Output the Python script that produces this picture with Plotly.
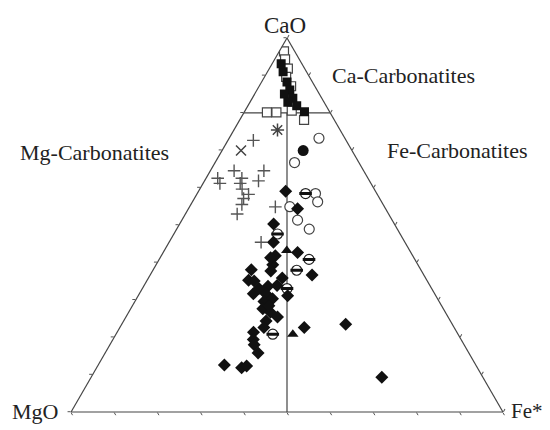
import plotly.graph_objects as go

# Ternary data (CaO, MgO, Fe*) in %
diam_ca = [59.0, 54.4, 50.3, 45.4, 42.6, 41.8, 39.4, 38.0, 37.7, 36.6, 35.2, 35.0, 35.8, 33.6, 33.8,
           31.6, 31.6, 31.1, 29.6, 27.6, 26.7, 25.4, 24.3, 22.6, 22.6, 23.5, 21.3, 19.4, 18.0, 15.8,
           12.6, 11.8, 12.3, 9.3, 33.0, 30.3, 28.4, 41.3]
diam_mg = [20.8, 20.4, 28.0, 30.5, 26.2, 31.8, 33.6, 39.2, 34.9, 25.9, 41.3, 40.1, 33.2, 37.6, 35.4,
           42.0, 39.1, 34.3, 40.6, 41.8, 40.5, 39.5, 42.7, 44.0, 34.7, 24.7, 47.1, 48.1, 48.6, 48.8,
           58.2, 54.6, 53.2, 23.4, 40.0, 38.2, 40.0, 33.2]
diam_fe = [20.2, 25.3, 21.8, 24.2, 31.1, 26.4, 27.0, 22.7, 27.4, 37.5, 23.5, 24.9, 31.0, 28.8, 30.8,
           26.4, 29.3, 34.6, 29.9, 30.6, 32.8, 35.1, 33.0, 33.3, 42.7, 51.9, 31.6, 32.5, 33.4, 35.4,
           29.2, 33.6, 34.5, 67.3, 27.0, 31.5, 31.6, 25.6]

ocirc_ca = [73.2, 66.7, 58.4, 56.2, 54.9, 51.3, 48.9]
ocirc_mg = [6.0, 14.9, 14.2, 14.8, 21.9, 21.9, 20.4]
ocirc_fe = [20.8, 18.4, 27.4, 29.0, 23.2, 26.8, 30.7]

fcirc_ca = [69.9]
fcirc_mg = [11.3]
fcirc_fe = [18.8]

half_ca = [58.4, 47.6, 40.8, 37.9, 33.0, 20.8]
half_mg = [16.5, 28.4, 24.5, 28.8, 33.5, 42.9]
half_fe = [25.1, 24.0, 34.7, 33.3, 33.5, 36.3]

tri_ca = [43.2, 20.8]
tri_mg = [28.5, 38.3]
tri_fe = [28.4, 41.0]

osq_ca = [96.4, 94.2, 91.8, 89.6, 87.1, 80.1, 80.1, 80.6, 78.1]
osq_mg = [2.5, 3.3, 3.9, 5.4, 5.5, 14.6, 12.4, 8.6, 7.0]
osq_fe = [1.1, 2.4, 4.3, 5.0, 7.4, 5.3, 7.5, 10.8, 14.9]

fsq_ca = [91.0, 88.3, 86.1, 85.0, 83.9, 82.8, 82.0, 80.3, 93.2]
fsq_mg = [5.4, 5.9, 6.3, 8.1, 6.7, 8.4, 6.8, 5.8, 4.8]
fsq_fe = [3.6, 5.9, 7.6, 6.9, 9.4, 8.8, 11.3, 13.9, 2.1]

plus_ca = [72.7, 64.5, 62.5, 61.2, 62.5, 61.2, 61.8, 64.5, 59.6, 58.2, 57.1, 55.5, 53.0, 54.9, 45.4]
plus_mg = [21.5, 30.0, 34.8, 35.0, 29.2, 30.3, 25.7, 23.1, 30.6, 29.8, 31.5, 32.7, 35.1, 25.3, 33.3]
plus_fe = [5.9, 5.5, 2.7, 3.9, 8.3, 8.6, 12.5, 12.4, 9.8, 12.0, 11.4, 11.8, 12.0, 19.9, 21.3]

x_ca = [69.9]
x_mg = [25.7]
x_fe = [4.4]

star_ca = [75.4]
star_mg = [14.5]
star_fe = [10.1]

# field boundaries
line1_ca, line1_mg, line1_fe = [80, 80], [20, 0], [0, 20]
line2_ca, line2_mg, line2_fe = [80, 0], [10, 50], [10, 50]

fig = go.Figure()

def add(a, b, c, **kw):
    fig.add_trace(go.Scatterternary(a=a, b=b, c=c, showlegend=False, hoverinfo="skip", **kw))

add(line1_ca, line1_mg, line1_fe, mode="lines", line=dict(color="#444", width=1.2))
add(line2_ca, line2_mg, line2_fe, mode="lines", line=dict(color="#444", width=1.2))

add(plus_ca, plus_mg, plus_fe, mode="markers",
    marker=dict(symbol="cross-thin-open", size=9, color="#555", line=dict(color="#555", width=1.4)))
add(x_ca, x_mg, x_fe, mode="markers",
    marker=dict(symbol="x-thin-open", size=10, color="#444", line=dict(color="#444", width=1.5)))
add(star_ca, star_mg, star_fe, mode="markers",
    marker=dict(symbol="asterisk-open", size=11, color="#444", line=dict(color="#444", width=1.5)))
add(ocirc_ca, ocirc_mg, ocirc_fe, mode="markers",
    marker=dict(symbol="circle", size=10, color="white", line=dict(color="#444", width=1.2)))
add(half_ca, half_mg, half_fe, mode="markers",
    marker=dict(symbol="circle", size=10, color="white", line=dict(color="#222", width=1.2)))
add(half_ca, half_mg, half_fe, mode="markers",
    marker=dict(symbol="line-ew-open", size=9, color="#111", line=dict(color="#111", width=3)))
add(fcirc_ca, fcirc_mg, fcirc_fe, mode="markers",
    marker=dict(symbol="circle", size=11, color="#111"))
add(osq_ca, osq_mg, osq_fe, mode="markers",
    marker=dict(symbol="square", size=9, color="white", line=dict(color="#444", width=1.2)))
add(fsq_ca, fsq_mg, fsq_fe, mode="markers",
    marker=dict(symbol="square", size=9, color="#111"))
add(diam_ca, diam_mg, diam_fe, mode="markers",
    marker=dict(symbol="diamond", size=10, color="#111"))
add(tri_ca, tri_mg, tri_fe, mode="markers",
    marker=dict(symbol="triangle-up", size=10, color="#111"))

axis_common = dict(showgrid=False, showticklabels=False, ticks="outside", ticklen=3, tickwidth=1,
                   tickcolor="#555", linecolor="#444", linewidth=1.2, dtick=10, title=dict(text=""))

W, H = 542, 422  # page body has an 8px offset inside the 550x430 window

fig.update_layout(
    width=W, height=H, autosize=False,
    margin=dict(l=0, r=0, t=0, b=0),
    paper_bgcolor="white",
    ternary=dict(
        sum=100,
        bgcolor="white",
        domain=dict(x=[0.11624, 0.91328], y=[0.042654, 0.92891]),
        aaxis=axis_common, baxis=axis_common, caxis=axis_common,
    ),
    font=dict(family="Liberation Serif", color="#222"),
)

labels = [
    ("CaO", 277, 17, "center", 23),
    ("Ca-Carbonatites", 322, 67, "left", 22),
    ("Mg-Carbonatites", 10, 144, "left", 22),
    ("Fe-Carbonatites", 377, 142, "left", 22),
    ("MgO", 52, 403, "right", 22),
    ("Fe*", 501, 403, "left", 21),
]
for text, px, py, anchor, fs in labels:
    fig.add_annotation(text=text, x=px / W, y=1 - py / H, xref="paper", yref="paper",
                       xanchor=anchor, yanchor="middle", showarrow=False,
                       font=dict(family="Liberation Serif", size=fs, color="#222"))

fig.write_html("out.html")
